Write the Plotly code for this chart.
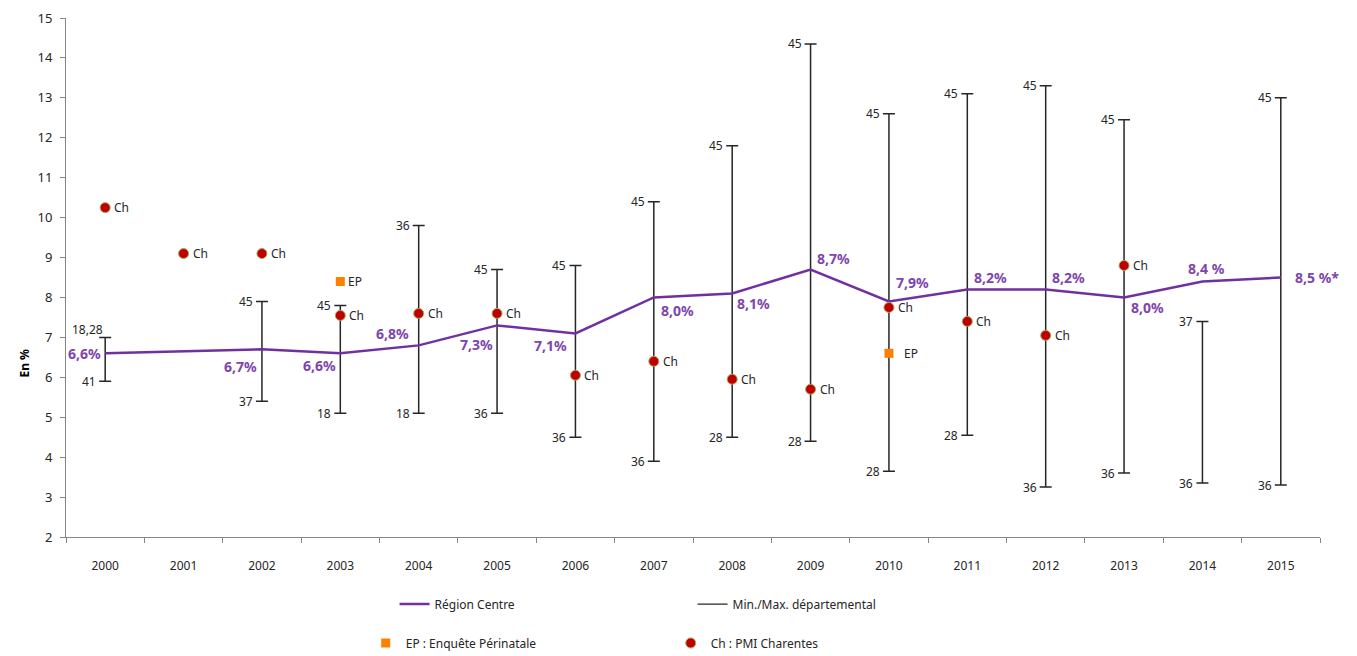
import plotly.graph_objects as go

# --- Données ---
annees = [str(a) for a in range(2000, 2016)]

# Région Centre (en %), pas de valeur pour 2001
region_centre = [6.6, None, 6.7, 6.6, 6.8, 7.3, 7.1, 8.0, 8.1, 8.7, 7.9, 8.2, 8.2, 8.0, 8.4, 8.5]
region_labels = ["6,6%", "", "6,7%", "6,6%", "6,8%", "7,3%", "7,1%", "8,0%", "8,1%",
                 "8,7%", "7,9%", "8,2%", "8,2%", "8,0%", "8,4 %", "8,5 %*"]

# Min./Max. départemental (valeur en % + numéro du département)
dep_max = [7.0, None, 7.9, 7.8, 9.8, 8.7, 8.8, 10.4, 11.8, 14.35, 12.6, 13.1, 13.3, 12.45, 7.4, 13.0]
dep_min = [5.9, None, 5.4, 5.1, 5.1, 5.1, 4.5, 3.9, 4.5, 4.4, 3.65, 4.55, 3.25, 3.6, 3.35, 3.3]
dep_max_lbl = ["18,28", "", "45", "45", "36", "45", "45", "45", "45", "45", "45", "45", "45", "45", "37", "45"]
dep_min_lbl = ["41", "", "37", "18", "18", "36", "36", "36", "28", "28", "28", "28", "36", "36", "36", "36"]

# PMI Charentes
ch_annees = annees[:14]
ch_valeurs = [10.25, 9.1, 9.1, 7.55, 7.6, 7.6, 6.05, 6.4, 5.95, 5.7, 7.75, 7.4, 7.05, 8.8]

# Enquête Périnatale
ep_annees = ["2003", "2010"]
ep_valeurs = [8.4, 6.6]

# placement des étiquettes de la Région Centre (ancre, décalage x, décalage y)
place_labels = [("right", -2, 0), None, ("right", -3, -17), ("right", -2, -12), ("right", -8, 12),
                ("right", -2, -19), ("right", -6, -12), ("left", 5, -13), ("left", 3, -10),
                ("left", 4, 11), ("left", 5, 19), ("left", 5, 12), ("left", 4, 12),
                ("left", 5, -10), ("center", 4, 13), ("left", 12, 0)]

VIOLET = "#7030a0"
VIOLET_TXT = "#7d45ad"
GRIS = "#262626"

# les annotations sur un axe catégoriel se placent par index
idx = {a: i for i, a in enumerate(annees)}

fig = go.Figure()

# barres min/max départementales
milieu = [None if h is None else (h + l) / 2 for h, l in zip(dep_max, dep_min)]
demi = [None if h is None else (h - l) / 2 for h, l in zip(dep_max, dep_min)]
fig.add_trace(go.Scatter(
    x=annees, y=milieu, mode="markers",
    marker=dict(color="rgba(0,0,0,0)", size=1),
    error_y=dict(type="data", array=demi, symmetric=True, color=GRIS, thickness=1.5, width=6),
    showlegend=False, hoverinfo="skip",
))

# courbe Région Centre
fig.add_trace(go.Scatter(
    x=annees, y=region_centre, mode="lines", connectgaps=True,
    line=dict(color=VIOLET, width=2.5), name="Région Centre", legend="legend",
))

# entrée de légende Min./Max.
fig.add_trace(go.Scatter(
    x=[None], y=[None], mode="lines", line=dict(color=GRIS, width=1.2),
    name="Min./Max. départemental", legend="legend",
))

# EP et Ch
fig.add_trace(go.Scatter(
    x=ep_annees, y=ep_valeurs, mode="markers",
    marker=dict(symbol="square", size=9, color="#ff8000"),
    name="EP : Enquête Périnatale", legend="legend2",
))
fig.add_trace(go.Scatter(
    x=ch_annees, y=ch_valeurs, mode="markers",
    marker=dict(symbol="circle", size=10, color="#c00000", line=dict(color="#a8a860", width=1)),
    name="Ch : PMI Charentes", legend="legend2",
))

annots = []
font_val = dict(family="Noto Sans", size=12, color=GRIS)
for an, hi, lo, th, tl in zip(annees, dep_max, dep_min, dep_max_lbl, dep_min_lbl):
    if hi is None:
        continue
    ys = 8 if an == "2000" else 0
    xs = 0 if an == "2000" else -7
    annots.append(dict(x=idx[an], y=hi, text=th, showarrow=False, xanchor="right", yanchor="middle",
                       xshift=xs, yshift=ys, font=font_val))
    annots.append(dict(x=idx[an], y=lo, text=tl, showarrow=False, xanchor="right", yanchor="middle",
                       xshift=-7, font=font_val))

for an, v in zip(ch_annees, ch_valeurs):
    annots.append(dict(x=idx[an], y=v, text="Ch", showarrow=False, xanchor="left", yanchor="middle",
                       xshift=7, font=font_val))
for an, v, dx in zip(ep_annees, ep_valeurs, [6, 13]):
    annots.append(dict(x=idx[an], y=v, text="EP", showarrow=False, xanchor="left", yanchor="middle",
                       xshift=dx, font=font_val))

for an, v, t, p in zip(annees, region_centre, region_labels, place_labels):
    if v is None:
        continue
    ancre, dx, dy = p
    annots.append(dict(x=idx[an], y=v, text="<b>" + t + "</b>", showarrow=False, xanchor=ancre,
                       yanchor="middle", xshift=dx, yshift=dy,
                       font=dict(family="Noto Sans", size=14, color=VIOLET_TXT)))

annots.append(dict(xref="paper", yref="paper", x=-0.0415, y=0.335, text="<b>En %</b>",
                   textangle=-90, showarrow=False, font=dict(family="Noto Sans", size=12, color="#000")))

# la page ajoute une marge de 8 px : figure un peu plus petite que la fenêtre
fig.update_layout(
    width=1349, height=648,
    margin=dict(l=58, r=37, t=10, b=119),
    plot_bgcolor="white", paper_bgcolor="white",
    font=dict(family="Noto Sans", size=12, color=GRIS),
    xaxis=dict(type="category", range=[-0.5, 15.5], showgrid=False, showline=True,
               linecolor="#868686", ticks="outside", tickson="boundaries", ticklen=5,
               tickcolor="#868686", ticklabelstandoff=18, zeroline=False, automargin=False,
               tickfont=dict(family="Noto Sans", size=12, color=GRIS)),
    yaxis=dict(range=[2, 15], dtick=1, showgrid=False, showline=True, linecolor="#868686",
               ticks="outside", ticklen=5, tickcolor="#868686", zeroline=False, automargin=False,
               ticklabelstandoff=5, ticklabeloverflow="allow",
               tickfont=dict(family="Noto Sans", size=13, color=GRIS)),
    legend=dict(orientation="h", x=0.262, y=0.0802, xanchor="left", yanchor="middle", yref="container",
                entrywidth=253, font=dict(family="Noto Sans", size=12, color=GRIS)),
    legend2=dict(orientation="h", x=0.239, y=0.0201, xanchor="left", yanchor="middle", yref="container",
                 entrywidth=260, font=dict(family="Noto Sans", size=12, color=GRIS)),
    annotations=annots,
)

fig.write_html("out.html")
